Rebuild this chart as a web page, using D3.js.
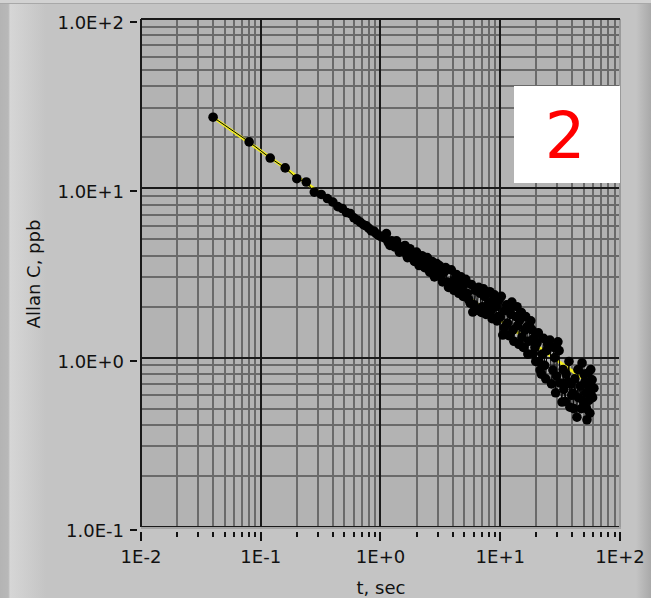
<!DOCTYPE html>
<html>
<head>
<meta charset="utf-8">
<script src="https://cdn.jsdelivr.net/npm/d3@7"></script>
<style>
  body { margin: 0; background: #c4c4c4; }
  svg { display: block; }
  text { font-family: "DejaVu Sans", sans-serif; fill: #111; }
</style>
</head>
<body>
<div id="chart"></div>
<script>
// averaging time, sec
var tau = [0.04, 0.08, 0.12, 0.16, 0.20, 0.24, 0.28,
  0.32, 0.36, 0.40, 0.44, 0.48, 0.52, 0.56, 0.60, 0.64, 0.68, 0.72, 0.76, 0.80, 0.84, 0.88, 0.92, 0.96, 1.00,
  1.08, 1.16, 1.24, 1.32, 1.40, 1.48, 1.56, 1.64, 1.72, 1.80, 1.88, 1.96, 2.04, 2.16, 2.28, 2.40, 2.52, 2.64, 2.76, 2.88, 3.00,
  3.2, 3.4, 3.6, 3.8, 4.0, 4.2, 4.4, 4.6, 4.8, 5.0, 5.3, 5.6, 5.9, 6.2, 6.4, 6.8, 7.1, 7.4, 7.8, 8.0, 8.4, 8.7, 9.2, 9.6, 10.0,
  10.5, 11.0, 11.5, 12.1, 12.5, 12.8, 13.5, 14.0, 14.6, 15.2, 16.0, 16.7, 17.3, 17.7, 18.4, 18.9, 19.5, 20.3, 21.0, 21.5,
  22.5, 23.5, 24.5, 26.0, 27.5, 28.5, 29.5, 30.3, 31.6, 32.8, 34.0, 35.5, 36.5, 38.2, 39.5, 40.5, 42.0, 43.7, 45.0, 46.5,
  48.2, 49.5, 51.0, 52.0, 53.0, 54.1, 55.0, 56.2, 57.5, 58.5,
  1.12, 1.20, 1.36, 1.44, 1.60, 1.68, 1.76, 1.92, 2.00, 2.10, 2.22, 2.34, 2.46, 2.58, 2.70, 2.82, 2.94,
  3.1, 3.3, 3.5, 3.7, 3.9, 4.1, 4.3, 4.5, 4.7, 4.9, 5.15, 5.45, 5.75, 6.05, 6.6, 6.95, 7.25, 7.6, 8.2, 8.55, 8.95, 9.4, 9.8,
  10.2, 10.8, 11.3, 11.8, 12.3, 13.0, 13.8, 14.3, 15.0, 15.6, 16.3, 17.0, 18.0, 19.0, 19.8,
  20.8, 22.0, 23.0, 24.0, 25.0, 26.8, 28.0, 29.0, 31.0, 33.5, 35.0, 37.5, 39.0, 41.0, 44.5, 47.5, 50.0, 52.5, 54.5,
  56.0, 57.0, 59.0, 60.5];

// Allan deviation, ppb
var allan = [26.3, 18.8, 15.1, 13.2, 11.4, 10.9, 9.5,
  9.2, 8.7, 8.3, 7.8, 7.6, 7.2, 7.1, 6.7, 6.5, 6.3, 6.1, 6.0, 5.8, 5.6, 5.6, 5.4, 5.3, 5.2,
  5.1, 4.8, 4.9, 4.5, 4.6, 4.3, 4.4, 4.1, 4.2, 3.9, 4.0, 3.8, 3.9, 3.7, 3.8, 3.5, 3.4, 3.6, 3.3, 3.4, 3.2,
  3.0, 3.2, 2.8, 2.76, 2.7, 2.9, 2.6, 2.8, 2.5, 2.7, 2.4, 2.1, 1.86, 2.5, 1.91, 2.4, 2.0, 2.3, 1.99, 2.1, 1.9, 2.18, 2.0, 1.75, 1.74,
  1.36, 1.9, 1.6, 1.91, 2.13, 1.46, 1.75, 1.55, 1.67, 1.32, 1.45, 1.52, 1.25, 1.52, 1.46, 1.06, 1.15, 1.22, 0.95, 0.845,
  1.05, 0.9, 1.1, 1.27, 0.845, 1.0, 0.78, 1.24, 0.708, 0.547, 0.65, 0.8, 0.72, 0.51, 0.6, 0.618, 0.75, 0.445, 0.58, 0.68,
  0.93, 0.55, 0.72, 0.62, 0.43, 0.81, 0.56, 0.67, 0.6, 0.74,
  5.4, 4.6, 4.9, 4.2, 4.6, 3.9, 4.4, 3.7, 4.2, 3.5, 4.0, 3.4, 3.9, 3.2, 3.7, 3.0, 3.6,
  3.5, 2.8, 3.4, 2.6, 3.3, 2.5, 3.1, 2.4, 3.0, 2.3, 2.9, 2.2, 2.7, 2.05, 2.6, 1.85, 2.55, 1.8, 2.45, 1.7, 2.35, 1.65, 2.2,
  2.3, 1.5, 2.05, 1.35, 1.8, 1.25, 2.0, 1.2, 1.85, 1.15, 1.75, 1.05, 1.65, 1.3, 0.95,
  1.4, 0.8, 1.3, 0.75, 1.2, 0.7, 1.15, 0.62, 1.1, 0.85, 0.55, 0.95, 0.7, 0.5, 0.85, 0.5, 0.8, 0.5, 0.68,
  0.47, 0.85, 0.58, 0.66];

// straight fit (yellow)
var fitTau = [0.04, 60];
var fitAllan = [26.3, 0.68];

var xTicks = [0.01, 0.1, 1, 10, 100];
var xTickLabels = ['1E-2', '1E-1', '1E+0', '1E+1', '1E+2'];
var yTicks = [0.1, 1, 10, 100];
var yTickLabels = ['1.0E-1', '1.0E+0', '1.0E+1', '1.0E+2'];

var w = 651, h = 598;
var plotLeft = 141, plotRight = 620, plotTop = 19, plotBottom = 527;

var svg = d3.select('#chart').append('svg')
  .attr('width', w)
  .attr('height', h);

// panel background with the bevelled edges
var defs = svg.append('defs');
var lg = defs.append('linearGradient').attr('id', 'leftEdge');
lg.append('stop').attr('offset', '0%').attr('stop-color', '#b4b4b4');
lg.append('stop').attr('offset', '18%').attr('stop-color', '#b8b8b8');
lg.append('stop').attr('offset', '22%').attr('stop-color', '#d6d6d6');
lg.append('stop').attr('offset', '100%').attr('stop-color', '#c4c4c4');
var rg = defs.append('linearGradient').attr('id', 'rightEdge');
rg.append('stop').attr('offset', '0%').attr('stop-color', '#c4c4c4');
rg.append('stop').attr('offset', '100%').attr('stop-color', '#a9a9a9');

svg.append('rect').attr('width', w).attr('height', h).attr('fill', '#c4c4c4');
svg.append('rect').attr('x', 0).attr('y', 0).attr('width', 46).attr('height', h).attr('fill', 'url(#leftEdge)');
svg.append('rect').attr('x', 636).attr('y', 0).attr('width', 15).attr('height', h).attr('fill', 'url(#rightEdge)');
svg.append('rect').attr('x', 0).attr('y', 0).attr('width', w).attr('height', 3).attr('fill', '#d2d2d2');
svg.append('rect').attr('x', 0).attr('y', 3).attr('width', w).attr('height', 1).attr('fill', '#a8a8a8');

var x = d3.scaleLog().domain([0.01, 100]).range([plotLeft, plotRight]);
var y = d3.scaleLog().domain([0.1, 100]).range([plotBottom, plotTop]);

// plot area
svg.append('rect')
  .attr('x', plotLeft).attr('y', plotTop)
  .attr('width', plotRight - plotLeft).attr('height', plotBottom - plotTop)
  .attr('fill', '#b3b3b3');

var isMajor = function(v) {
  var l = Math.log10(v);
  return Math.abs(l - Math.round(l)) < 1e-6;
};

var grid = svg.append('g').attr('shape-rendering', 'crispEdges');

// minor grid
grid.selectAll('.vminor')
  .data(x.ticks().filter(d => !isMajor(d)))
  .enter().append('line')
    .attr('x1', d => Math.round(x(d))).attr('x2', d => Math.round(x(d)))
    .attr('y1', plotTop).attr('y2', plotBottom)
    .attr('stroke', '#6a6a6a').attr('stroke-width', 2);

grid.selectAll('.hminor')
  .data(y.ticks().filter(d => !isMajor(d)))
  .enter().append('line')
    .attr('y1', d => Math.round(y(d))).attr('y2', d => Math.round(y(d)))
    .attr('x1', plotLeft).attr('x2', plotRight)
    .attr('stroke', '#6a6a6a').attr('stroke-width', 2);

// major grid
grid.selectAll('.vmajor')
  .data(xTicks)
  .enter().append('line')
    .attr('x1', d => Math.round(x(d))).attr('x2', d => Math.round(x(d)))
    .attr('y1', plotTop).attr('y2', plotBottom)
    .attr('stroke', '#1a1a1a').attr('stroke-width', 2);

grid.selectAll('.hmajor')
  .data(yTicks)
  .enter().append('line')
    .attr('y1', d => Math.round(y(d))).attr('y2', d => Math.round(y(d)))
    .attr('x1', plotLeft).attr('x2', plotRight)
    .attr('stroke', '#1a1a1a').attr('stroke-width', 2);

// plot frame: light on right / bottom
grid.append('line').attr('x1', plotRight).attr('x2', plotRight).attr('y1', plotTop).attr('y2', plotBottom + 1)
  .attr('stroke', '#9a9a9a').attr('stroke-width', 2);
grid.append('line').attr('x1', plotLeft).attr('x2', plotRight + 1).attr('y1', plotBottom + 1).attr('y2', plotBottom + 1)
  .attr('stroke', '#a4a4a4').attr('stroke-width', 2);
grid.append('line').attr('x1', plotLeft).attr('x2', plotRight).attr('y1', plotTop).attr('y2', plotTop)
  .attr('stroke', '#1a1a1a').attr('stroke-width', 2);

// x axis ticks below the plot
var xAxis = svg.append('g').attr('shape-rendering', 'crispEdges');
xAxis.selectAll('.xtick')
  .data(x.ticks())
  .enter().append('line')
    .attr('x1', d => Math.round(x(d))).attr('x2', d => Math.round(x(d)))
    .attr('y1', plotBottom + 5)
    .attr('y2', d => isMajor(d) ? plotBottom + 14 : plotBottom + 10)
    .attr('stroke', '#111').attr('stroke-width', 1.5);

svg.selectAll('.xlabel')
  .data(xTicks)
  .enter().append('text')
    .attr('x', d => x(d))
    .attr('y', 563)
    .attr('text-anchor', 'middle')
    .attr('font-size', 18)
    .text((d, i) => xTickLabels[i]);

// y axis dashes and labels
svg.selectAll('.ytick')
  .data(yTicks)
  .enter().append('line')
    .attr('x1', 130).attr('x2', 137)
    .attr('y1', d => Math.round(y(d)) + 3).attr('y2', d => Math.round(y(d)) + 3)
    .attr('stroke', '#111').attr('stroke-width', 1.5)
    .attr('shape-rendering', 'crispEdges');

svg.selectAll('.ylabel')
  .data(yTicks)
  .enter().append('text')
    .attr('x', 124)
    .attr('y', d => y(d) + 10)
    .attr('text-anchor', 'end')
    .attr('font-size', 18)
    .text((d, i) => yTickLabels[i]);

svg.append('text')
  .attr('x', 381).attr('y', 594)
  .attr('text-anchor', 'middle')
  .attr('font-size', 18)
  .text('t, sec');

svg.append('text')
  .attr('transform', 'translate(40,274) rotate(-90)')
  .attr('text-anchor', 'middle')
  .attr('font-size', 18)
  .text('Allan C, ppb');

// data, ordered by averaging time
var pts = tau.map((t, i) => [t, allan[i]])
  .sort((a, b) => d3.ascending(a[0], b[0]));

var plot = svg.append('g');

plot.append('path')
  .datum(fitTau.map((t, i) => [t, fitAllan[i]]))
  .attr('fill', 'none')
  .attr('stroke', '#f2ee1c')
  .attr('stroke-width', 3)
  .attr('d', d3.line().x(d => x(d[0])).y(d => y(d[1])));

plot.append('path')
  .datum(pts)
  .attr('fill', 'none')
  .attr('stroke', '#000')
  .attr('stroke-width', 1)
  .attr('d', d3.line().x(d => x(d[0])).y(d => y(d[1])));

plot.selectAll('.pt')
  .data(pts)
  .enter().append('circle')
    .attr('cx', d => x(d[0]))
    .attr('cy', d => y(d[1]))
    .attr('r', 4.8)
    .attr('fill', '#000');

// panel number box
svg.append('rect')
  .attr('x', 514).attr('y', 86)
  .attr('width', 106).attr('height', 97)
  .attr('fill', '#fff');

svg.append('text')
  .attr('x', 565).attr('y', 158)
  .attr('text-anchor', 'middle')
  .attr('font-family', '"Liberation Sans", Arial, sans-serif')
  .attr('font-size', 64)
  .style('fill', '#ff0000')
  .text('2');
</script>
</body>
</html>
